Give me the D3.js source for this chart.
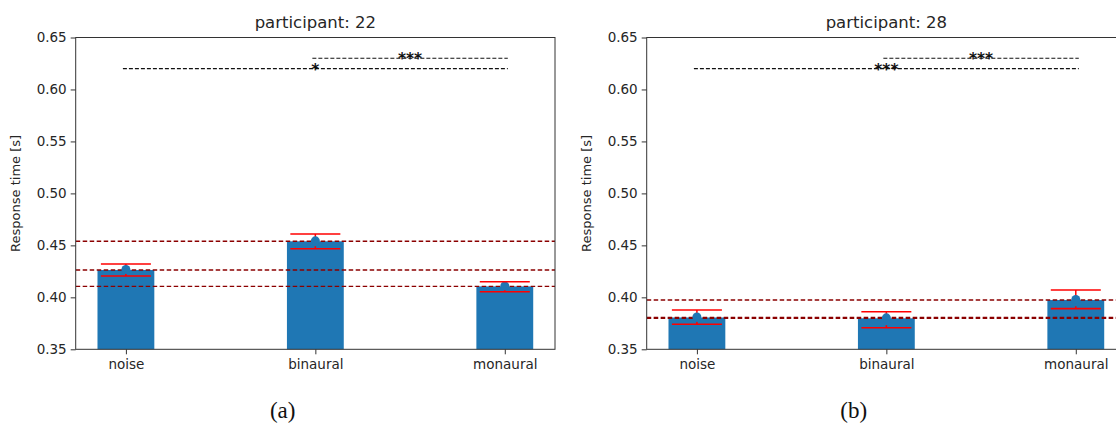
<!DOCTYPE html>
<html>
<head>
<meta charset="utf-8">
<script src="https://cdn.jsdelivr.net/npm/d3@7"></script>
<style>
  html, body { margin: 0; padding: 0; background: #fff; }
  svg { display: block; }
  text { font-family: "DejaVu Sans", sans-serif; fill: #262626; }
</style>
</head>
<body>
<svg id="chart" width="1116" height="423"></svg>
<script>
// ---- data ----
const categories = ["noise", "binaural", "monaural"];
const participants = ["22", "28"];
const captions = ["(a)", "(b)"];
const means22 = [0.4263, 0.4539, 0.4105];
const lo22    = [0.4205, 0.4468, 0.4054];
const hi22    = [0.4321, 0.4609, 0.4150];
const means28 = [0.3806, 0.3798, 0.3974];
const lo28    = [0.3741, 0.3708, 0.3891];
const hi28    = [0.3878, 0.3862, 0.4071];
const sigFrom  = [0, 1];
const sigTo    = [2, 2];
const sigLevel = [0.62, 0.63];
const sigLabels22 = ["*", "***"];
const sigLabels28 = ["***", "***"];
const yTicks = [0.35, 0.40, 0.45, 0.50, 0.55, 0.60, 0.65];

const panels = [
  { title: "participant: " + participants[0], caption: captions[0], means: means22, lo: lo22, hi: hi22, sig: sigLabels22, left: 75.7 },
  { title: "participant: " + participants[1], caption: captions[1], means: means28, lo: lo28, hi: hi28, sig: sigLabels28, left: 646.7 }
];

const svg = d3.select("#chart");
const axW = 479.3, axTop = 37.5, axBottom = 349.3;
const barColor = "#1f77b4";

panels.forEach((p, pi) => {
  const x = d3.scaleLinear().domain([-0.265, 2.265]).range([p.left, p.left + axW]);
  const y = d3.scaleLinear().domain([0.35, 0.65]).range([axBottom, axTop]);
  const g = svg.append("g");
  const clipId = "clip" + pi;
  svg.append("clipPath").attr("id", clipId).append("rect")
    .attr("x", p.left).attr("y", axTop).attr("width", axW).attr("height", axBottom - axTop);
  const plot = g.append("g").attr("clip-path", `url(#${clipId})`);

  const idx = categories.map((c, i) => i);
  // bars
  plot.selectAll("rect.bar").data(idx).enter().append("rect")
    .attr("x", i => x(i - 0.15)).attr("width", i => x(i + 0.15) - x(i - 0.15))
    .attr("y", i => y(p.means[i])).attr("height", i => y(0.35) - y(p.means[i]) + 2)
    .attr("fill", barColor);

  // horizontal dashed lines at means
  plot.selectAll("line.hl").data(idx).enter().append("line")
    .attr("x1", p.left).attr("x2", p.left + axW)
    .attr("y1", i => y(p.means[i])).attr("y2", i => y(p.means[i]))
    .attr("stroke", "#8b0000").attr("stroke-width", 1.4).attr("stroke-dasharray", "4.5,2.5");

  // errorbars
  const cap = 25;
  plot.selectAll("line.ev").data(idx).enter().append("line")
    .attr("x1", i => x(i)).attr("x2", i => x(i))
    .attr("y1", i => y(p.hi[i])).attr("y2", i => y(p.means[i]))
    .attr("stroke", "red").attr("stroke-width", 1.5);
  plot.selectAll("line.evl").data(idx).enter().append("line")
    .attr("x1", i => x(i)).attr("x2", i => x(i))
    .attr("y1", i => y(p.lo[i]) - 2.5).attr("y2", i => y(p.lo[i]))
    .attr("stroke", "red").attr("stroke-width", 1.5);
  plot.selectAll("circle.m").data(idx).enter().append("circle")
    .attr("cx", i => x(i)).attr("cy", i => y(p.means[i]) - 0.5).attr("r", 4.5)
    .attr("fill", barColor);
  ["hi", "lo"].forEach(k => {
    plot.selectAll("line.cap" + k).data(idx).enter().append("line")
      .attr("x1", i => x(i) - cap).attr("x2", i => x(i) + cap)
      .attr("y1", i => y(p[k][i])).attr("y2", i => y(p[k][i]))
      .attr("stroke", "red").attr("stroke-width", 1.6);
  });

  // significance lines
  sigFrom.forEach((f, j) => {
    const t = sigTo[j];
    plot.append("line")
      .attr("x1", x(f) - 3).attr("x2", x(t) + 3)
      .attr("y1", y(sigLevel[j])).attr("y2", y(sigLevel[j]))
      .attr("stroke", "#111").attr("stroke-width", 1.15).attr("stroke-dasharray", "4,2");
    plot.append("text")
      .attr("x", x((f + t) / 2)).attr("y", y(sigLevel[j]) + 6)
      .attr("text-anchor", "middle").attr("font-size", 15.5).attr("font-weight", "bold")
      .style("fill", "#111").style("stroke", "#fff").style("stroke-width", 0)
      .text(p.sig[j]);
  });

  // axes
  const yAxis = d3.axisLeft(y).tickValues(yTicks).tickFormat(d3.format(".2f")).tickSize(5).tickPadding(4);
  const ya = g.append("g").attr("transform", `translate(${p.left},0)`).call(yAxis);
  const xAxis = d3.axisBottom(x).tickValues(idx).tickFormat(i => categories[i]).tickSize(5).tickPadding(5);
  const xa = g.append("g").attr("transform", `translate(0,${axBottom})`).call(xAxis);
  [ya, xa].forEach(a => {
    a.select(".domain").remove();
    a.selectAll(".tick line").attr("stroke", "#333").attr("stroke-width", 1);
    a.selectAll(".tick text").attr("font-size", 13.5).attr("font-family", "DejaVu Sans").style("fill", "#262626");
  });

  // spines
  g.append("rect").attr("x", p.left).attr("y", axTop).attr("width", axW).attr("height", axBottom - axTop)
    .attr("fill", "none").attr("stroke", "#333").attr("stroke-width", 1);

  // title
  g.append("text").attr("x", p.left + axW / 2).attr("y", axTop - 10)
    .attr("text-anchor", "middle").attr("font-size", 16.5).text(p.title);

  // y label
  g.append("text")
    .attr("transform", `translate(${p.left - 56},${(axTop + axBottom) / 2}) rotate(-90)`)
    .attr("text-anchor", "middle").attr("font-size", 13).text("Response time [s]");

  // caption
  g.append("text").attr("x", p.left + 207).attr("y", 418)
    .attr("text-anchor", "middle").attr("font-size", 23)
    .style("font-family", "'Liberation Serif', serif").style("fill", "#111")
    .text(p.caption);
});
</script>
</body>
</html>
